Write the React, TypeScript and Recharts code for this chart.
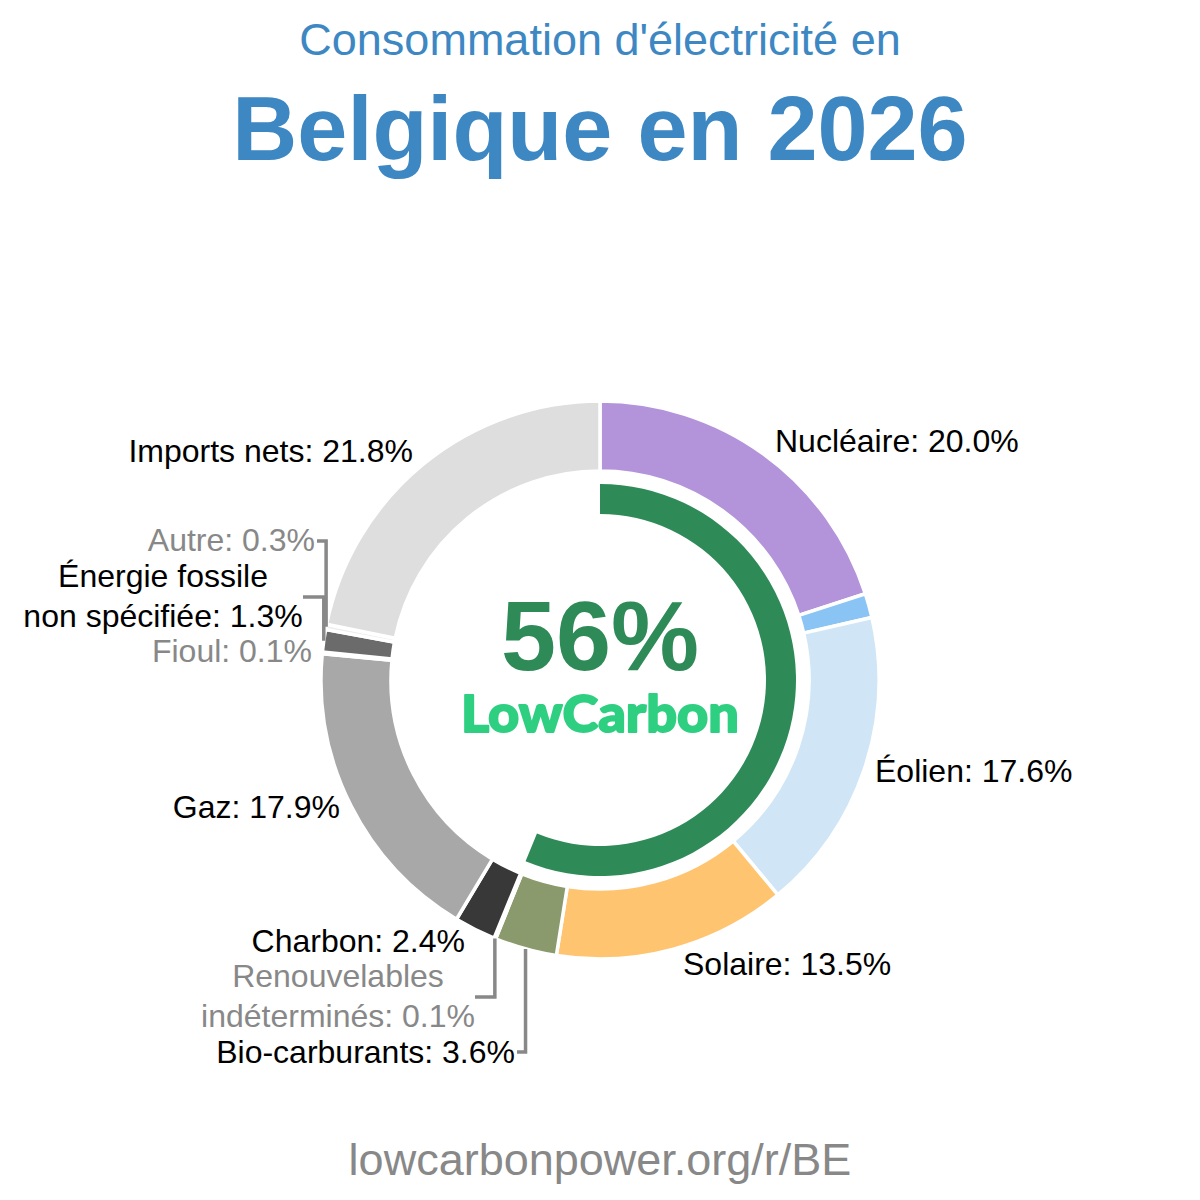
import { Cell, Pie, PieChart } from 'recharts';

const sources = [
  'Nucléaire',
  'Hydroélectricité',
  'Éolien',
  'Solaire',
  'Bio-carburants',
  'Renouvelables indéterminés',
  'Charbon',
  'Gaz',
  'Fioul',
  'Énergie fossile non spécifiée',
  'Autre',
  'Imports nets',
];
const shares = [20.0, 1.4, 17.6, 13.5, 3.6, 0.1, 2.4, 17.9, 0.1, 1.3, 0.3, 21.8];
const lowCarbon = [true, true, true, true, true, true, false, false, false, false, false, false];
const colors = [
  '#b394db',
  '#89c4f4',
  '#d0e6f6',
  '#ffc470',
  '#8a9a6c',
  '#9fc77f',
  '#383838',
  '#a8a8a8',
  '#444444',
  '#6b6b6b',
  '#eeeeee',
  '#dedede',
];

const FONT = '"Liberation Sans", Arial, sans-serif';
const CX = 600;
const CY = 680;
const RAD = Math.PI / 180;

const pieData = sources.map((name, i) => ({ name, value: shares[i] }));
const lowCarbonShare = shares.reduce((s, v, i) => (lowCarbon[i] ? s + v : s), 0);
const ringData = [
  { name: 'low', value: lowCarbonShare },
  { name: 'rest', value: 100 - lowCarbonShare },
];

// label placement, offsets from the pie centre
type LabelPos = {
  dx: number;
  dy: number[];
  anchor: 'start' | 'middle' | 'end';
  muted?: boolean;
  lines: string[];
  leaderY?: number;
  leaderX?: number;
};

const layout: Record<string, LabelPos> = {
  'Nucléaire': { dx: 175, dy: [-228], anchor: 'start', lines: ['Nucléaire: 20.0%'] },
  'Éolien': { dx: 275, dy: [102], anchor: 'start', lines: ['Éolien: 17.6%'] },
  'Solaire': { dx: 83, dy: [295], anchor: 'start', lines: ['Solaire: 13.5%'] },
  'Bio-carburants': {
    dx: -85,
    dy: [383],
    anchor: 'end',
    lines: ['Bio-carburants: 3.6%'],
    leaderY: 372,
    leaderX: -83,
  },
  'Renouvelables indéterminés': {
    dx: -262,
    dy: [307, 347],
    anchor: 'middle',
    muted: true,
    lines: ['Renouvelables', 'indéterminés: 0.1%'],
    leaderY: 317,
    leaderX: -125,
  },
  'Charbon': { dx: -135, dy: [272], anchor: 'end', lines: ['Charbon: 2.4%'] },
  'Gaz': { dx: -260, dy: [138], anchor: 'end', lines: ['Gaz: 17.9%'] },
  'Fioul': { dx: -288, dy: [-18], anchor: 'end', muted: true, lines: ['Fioul: 0.1%'] },
  'Énergie fossile non spécifiée': {
    dx: -437,
    dy: [-93, -53],
    anchor: 'middle',
    lines: ['Énergie fossile', 'non spécifiée: 1.3%'],
    leaderY: -83,
    leaderX: -297,
  },
  'Autre': {
    dx: -285,
    dy: [-129],
    anchor: 'end',
    muted: true,
    lines: ['Autre: 0.3%'],
    leaderY: -139,
    leaderX: -283,
  },
  'Imports nets': { dx: -187, dy: [-218], anchor: 'end', lines: ['Imports nets: 21.8%'] },
};

function renderLabel(props: any) {
  const { cx, cy, midAngle, outerRadius, name } = props;
  const pos = layout[name];
  if (!pos) return null;
  const px = cx + outerRadius * Math.cos(-midAngle * RAD);
  const py = cy + outerRadius * Math.sin(-midAngle * RAD);
  return (
    <g>
      {pos.leaderY !== undefined && (
        <path
          d={`M${px},${py} V${cy + pos.leaderY} H${cx + (pos.leaderX ?? 0)}`}
          fill="none"
          stroke="#888"
          strokeWidth={3.5}
        />
      )}
      {pos.lines.map((line, i) => (
        <text
          key={line}
          x={cx + pos.dx}
          y={cy + pos.dy[i]}
          textAnchor={pos.anchor}
          fontFamily={FONT}
          fontSize={32}
          fill={pos.muted ? '#888888' : '#000000'}
        >
          {line}
        </text>
      ))}
    </g>
  );
}

export default function App() {
  return (
    <div style={{ position: 'absolute', left: 0, top: 0, width: 1200, height: 1200, background: '#fff' }}>
      <PieChart width={1200} height={1200} margin={{ top: 0, right: 0, bottom: 0, left: 0 }}>
        <Pie
          data={pieData}
          dataKey="value"
          nameKey="name"
          cx={CX}
          cy={CY}
          innerRadius={209}
          outerRadius={279}
          startAngle={90}
          endAngle={-270}
          stroke="#ffffff"
          strokeWidth={3.5}
          label={renderLabel}
          labelLine={false}
          isAnimationActive={false}
        >
          {pieData.map((d, i) => (
            <Cell key={d.name} fill={colors[i]} />
          ))}
        </Pie>
        <Pie
          data={ringData}
          dataKey="value"
          cx={CX}
          cy={CY}
          innerRadius={166}
          outerRadius={196}
          startAngle={90}
          endAngle={-270}
          stroke="none"
          isAnimationActive={false}
        >
          <Cell fill="#2e8b57" />
          <Cell fill="transparent" />
        </Pie>
      </PieChart>
      <svg
        width={1200}
        height={1200}
        style={{ position: 'absolute', left: 0, top: 0, pointerEvents: 'none' }}
      >
        <text x={600} y={55} textAnchor="middle" fontFamily={FONT} fontSize={45} fill="#3d87c3">
          Consommation d'électricité en
        </text>
        <text
          x={600}
          y={160}
          textAnchor="middle"
          fontFamily={FONT}
          fontWeight="bold"
          fontSize={90}
          fill="#3d87c3"
        >
          Belgique en 2026
        </text>
        <text
          x={600}
          y={670}
          textAnchor="middle"
          fontFamily={FONT}
          fontWeight="bold"
          fontSize={99}
          fill="#2e8b57"
        >
          {Math.round(lowCarbonShare)}%
        </text>
        <text
          x={600}
          y={732}
          textAnchor="middle"
          fontFamily="Lato, 'Noto Sans', sans-serif"
          fontWeight={900}
          fontSize={52}
          fill="#2ecf81"
          stroke="#2ecf81"
          strokeWidth={1.8}
          strokeLinejoin="round"
          textLength={278}
          lengthAdjust="spacingAndGlyphs"
        >
          LowCarbon
        </text>
        <text x={600} y={1175} textAnchor="middle" fontFamily={FONT} fontSize={45} fill="#888888">
          lowcarbonpower.org/r/BE
        </text>
      </svg>
    </div>
  );
}
